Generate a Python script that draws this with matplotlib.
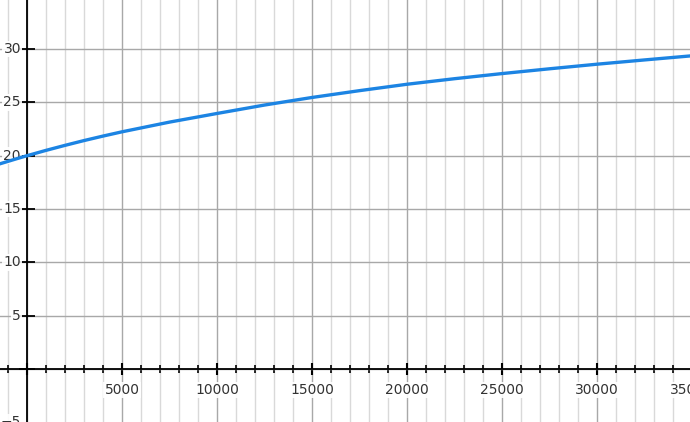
import matplotlib
matplotlib.use("Agg")
import matplotlib.pyplot as plt
from matplotlib.ticker import MultipleLocator, NullFormatter

# data
x_vals = [-1500, -1000, -500, 0, 1000, 2000, 3000, 4000, 5000, 7500, 10000,
          12500, 15000, 17500, 20000, 22500, 25000, 27500, 30000, 32500, 35000]
y_vals = [19.2, 19.47, 19.74, 20.0, 20.5, 20.97, 21.42, 21.84, 22.24, 23.15,
          23.96, 24.75, 25.46, 26.1, 26.7, 27.22, 27.7, 28.15, 28.58, 28.98, 29.37]

x_tick_labels = [5000, 10000, 15000, 20000, 25000, 30000, 35000]
y_tick_labels = [-5, 5, 10, 15, 20, 25, 30]

x_range = (-1421, 34895)
y_range = (-4.97, 34.6)

fig = plt.figure(figsize=(6.9, 4.22), dpi=100)
ax = fig.add_axes([0, 0, 1, 1])
ax.set_xlim(*x_range)
ax.set_ylim(*y_range)

# grid
ax.xaxis.set_major_locator(MultipleLocator(5000))
ax.xaxis.set_minor_locator(MultipleLocator(1000))
ax.yaxis.set_major_locator(MultipleLocator(5))
ax.grid(which="minor", axis="x", color="#d9d9d9", linewidth=1.0, zorder=0)
ax.grid(which="major", axis="x", color="#a8a8a8", linewidth=1.0, zorder=0)
ax.grid(which="major", axis="y", color="#a8a8a8", linewidth=1.0, zorder=0)
ax.set_axisbelow(True)

# axes through origin
for s in ("top", "right"):
    ax.spines[s].set_visible(False)
ax.spines["left"].set_position(("data", 0))
ax.spines["bottom"].set_position(("data", 0))
for s in ("left", "bottom"):
    ax.spines[s].set_color("black")
    ax.spines[s].set_linewidth(1.3)

ax.xaxis.set_major_formatter(NullFormatter())
ax.yaxis.set_major_formatter(NullFormatter())

ax.tick_params(axis="x", which="major", direction="inout", length=9, width=1.5,
               color="black")
ax.tick_params(axis="x", which="minor", direction="inout", length=6, width=1.2,
               color="black")
ax.tick_params(axis="y", which="major", direction="inout", length=11, width=1.3,
               color="black")

bbox = dict(boxstyle="square,pad=0.1", facecolor="white", edgecolor="none", alpha=0.9)
xt = ax.get_xaxis_transform()
yt = ax.get_yaxis_transform()
import matplotlib.transforms as mtrans
for v in x_tick_labels:
    off = mtrans.offset_copy(ax.transData, fig=fig, x=0, y=-21, units="dots")
    ax.text(v, 0, str(v), transform=off, ha="center", va="center", fontsize=10,
            color="#333333", bbox=bbox, clip_on=False, zorder=3)
for v in y_tick_labels:
    off = mtrans.offset_copy(ax.transData, fig=fig, x=-6, y=0, units="dots")
    lab = ("\u2212%d" % abs(v)) if v < 0 else str(v)
    ax.text(0, v, lab, transform=off, ha="right", va="center", fontsize=10,
            color="#333333", bbox=bbox, clip_on=False, zorder=3)

ax.plot(x_vals, y_vals, color="#1c84e3", linewidth=2.4, solid_capstyle="round",
        zorder=5)

fig.savefig("out.png", dpi=100)
